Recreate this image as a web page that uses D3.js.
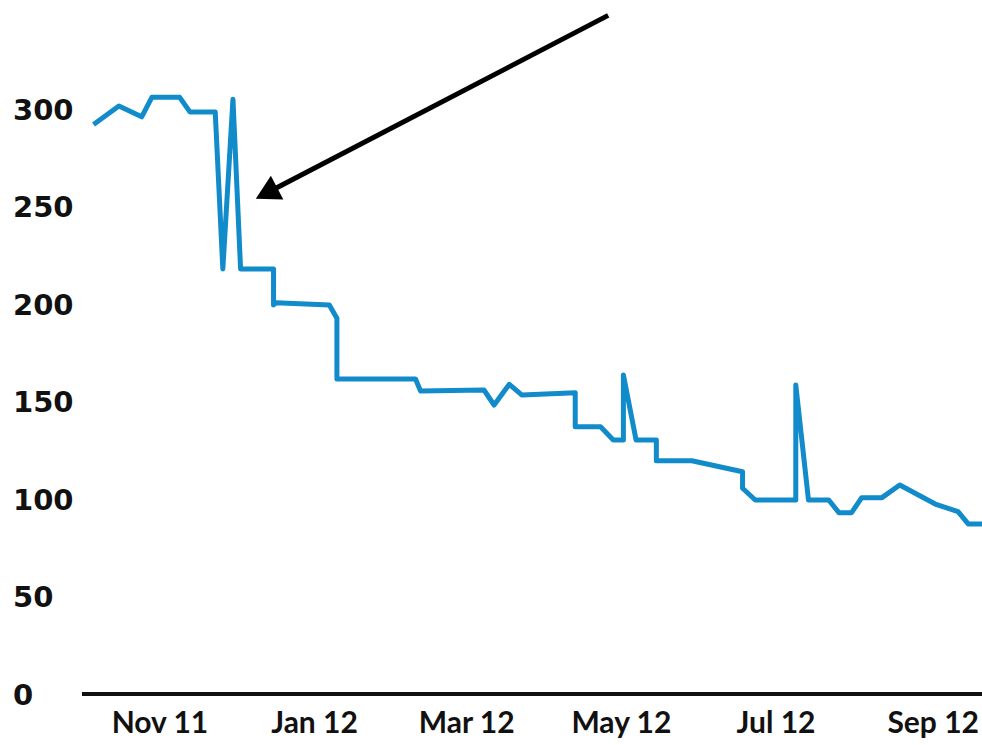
<!DOCTYPE html>
<html>
<head>
<meta charset="utf-8">
<script src="https://cdn.jsdelivr.net/npm/d3@7"></script>
<style>
  html, body { margin: 0; padding: 0; background: #ffffff; }
  svg { display: block; }
</style>
</head>
<body>
<div id="chart"></div>
<script>
// Observation dates and values of the series
const dates = [
  "2011-10-06","2011-10-16","2011-10-25","2011-10-29","2011-11-09","2011-11-13","2011-11-23",
  "2011-11-26","2011-11-30","2011-12-03","2011-12-16","2011-12-16","2011-12-17","2012-01-07",
  "2012-01-10","2012-01-10","2012-02-10","2012-02-12","2012-03-08","2012-03-12","2012-03-18",
  "2012-03-23","2012-04-13","2012-04-13","2012-04-23","2012-04-28","2012-05-02","2012-05-02",
  "2012-05-07","2012-05-15","2012-05-15","2012-05-29","2012-06-18","2012-06-18","2012-06-23",
  "2012-07-09","2012-07-09","2012-07-14","2012-07-22","2012-07-26","2012-07-31","2012-08-04",
  "2012-08-12","2012-08-19","2012-09-02","2012-09-11","2012-09-15","2012-09-21"
];
const values = [
  292, 301.5, 296, 306, 306, 298.5, 298.5,
  218, 305, 218, 218, 199.5, 200.7, 199.5,
  192.7, 161.5, 161.5, 155.4, 155.9, 148.2, 158.8,
  153.3, 154.5, 137.1, 137.1, 130.3, 130.3, 163.6,
  130.3, 130.3, 119.6, 119.6, 114, 105.5, 99.5,
  99.5, 158.5, 99.5, 99.5, 93, 93, 100.7,
  100.7, 107.2, 97.4, 93.5, 87.2, 87.2
];

// Axis ticks
const yTicks = [0, 50, 100, 150, 200, 250, 300];
const xDomain = ["2011-10-05", "2012-09-21"];

// Annotation arrow (tail and tip in data terms)
const arrowTail = { date: "2012-04-26", value: 348 };
const arrowTip  = { date: "2011-12-09", value: 254 };

const W = 982, H = 745;
const parse = d3.timeParse("%Y-%m-%d");
const series = dates.map((d, i) => ({ date: parse(d), value: values[i] }));

const svg = d3.select("#chart").append("svg")
  .attr("width", W).attr("height", H)
  .attr("viewBox", `0 0 ${W} ${H}`);

svg.append("rect").attr("width", W).attr("height", H).attr("fill", "#ffffff");

const x = d3.scaleTime()
  .domain(xDomain.map(parse))
  .range([91, 983.4]);

const y = d3.scaleLinear()
  .domain([0, 300])
  .range([694, 109]);

// Y labels, left aligned, no axis line
const yAxis = svg.append("g")
  .call(d3.axisLeft(y).tickValues(yTicks).tickSize(0).tickFormat(d3.format("d")));
yAxis.select(".domain").remove();
yAxis.selectAll("text")
  .attr("x", 13)
  .attr("dy", "0.36em")
  .attr("text-anchor", "start")
  .attr("fill", "#111111")
  .style("font-family", "'DejaVu Sans', sans-serif")
  .style("font-weight", "700")
  .style("font-size", "29px");

// Baseline at zero
svg.append("line")
  .attr("x1", 82).attr("x2", W)
  .attr("y1", y(0)).attr("y2", y(0))
  .attr("stroke", "#111111")
  .attr("stroke-width", 4);

// X labels
const xAxis = svg.append("g")
  .attr("transform", `translate(0,${y(0)})`)
  .call(d3.axisBottom(x)
    .ticks(d3.timeMonth.every(2))
    .tickSize(0)
    .tickFormat(d3.timeFormat("%b %y")));
xAxis.select(".domain").remove();
xAxis.selectAll("text")
  .attr("y", 39)
  .attr("dy", 0)
  .attr("fill", "#111111")
  .style("font-family", "Lato, sans-serif")
  .style("font-weight", "700")
  .style("font-size", "30px");

// Series line
const line = d3.line()
  .x(d => x(d.date))
  .y(d => y(d.value));

svg.append("path")
  .datum(series)
  .attr("d", line)
  .attr("fill", "none")
  .attr("stroke", "#128bcb")
  .attr("stroke-width", 5)
  .attr("stroke-linejoin", "round");

// Annotation arrow
const tx = x(parse(arrowTail.date)), ty = y(arrowTail.value);
const px = x(parse(arrowTip.date)),  py = y(arrowTip.value);
const len = Math.hypot(px - tx, py - ty);
const ux = (px - tx) / len, uy = (py - ty) / len;
const headLen = 24, headHalf = 13.5;
const bx = px - ux * headLen, by = py - uy * headLen;

svg.append("line")
  .attr("x1", tx).attr("y1", ty)
  .attr("x2", bx + ux * 2).attr("y2", by + uy * 2)
  .attr("stroke", "#000000")
  .attr("stroke-width", 5);

svg.append("path")
  .attr("d", `M${px},${py} L${bx - uy * headHalf},${by + ux * headHalf} L${bx + uy * headHalf},${by - ux * headHalf} Z`)
  .attr("fill", "#000000");
</script>
</body>
</html>
